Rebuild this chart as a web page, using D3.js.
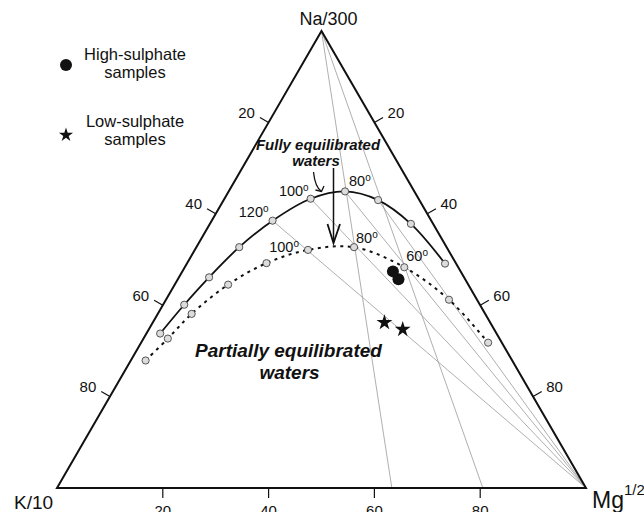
<!DOCTYPE html>
<html>
<head>
<meta charset="utf-8">
<script src="https://cdn.jsdelivr.net/npm/d3@7/dist/d3.min.js"></script>
<style>
  html, body { margin: 0; padding: 0; background: #fff; }
  svg { display: block; }
  text { font-family: "Liberation Sans", Arial, Helvetica, sans-serif; fill: #111; }
</style>
</head>
<body>
<svg id="chart" width="644" height="512"></svg>
<script>
// Na/300 – K/10 – Mg^1/2 ternary (Giggenbach-type) diagram.
// Compositions are percentages [T (°C), Na, K, Mg] or [Na, K, Mg].

const tickValues = [20, 40, 60, 80];

// Full equilibrium line, 20 °C steps
const fullEquilibrium = [
  [200, 33.8, 63.6, 2.6],
  [180, 40.1, 55.9, 4.0],
  [160, 46.1, 48.2, 5.7],
  [140, 52.7, 39.2, 8.1],
  [120, 58.5, 30.0, 11.5],
  [100, 63.3, 20.4, 16.3],
  [80, 64.9, 13.1, 22.0],
  [60, 63.0, 7.8, 29.2],
  [40, 57.8, 4.2, 38.0],
  [20, 49.1, 2.1, 48.8]
];

// Partial equilibrium line (dotted)
const partialEquilibrium = [
  [200, 27.9, 69.3, 2.8],
  [180, 32.7, 62.7, 4.6],
  [160, 38.1, 55.5, 6.4],
  [140, 44.5, 45.4, 10.1],
  [120, 49.2, 35.8, 15.0],
  [100, 52.1, 26.5, 21.4],
  [80, 52.7, 17.5, 29.8],
  [60, 48.3, 10.2, 41.5],
  [40, 41.2, 5.3, 53.5],
  [20, 31.8, 2.6, 65.6]
];

const fullLabelTemps = [120, 100, 80];
const partialLabelTemps = [100, 80, 60];

// K–Na isotherms: radiate from the Mg corner to the full-equilibrium point
const kNaIsothermTemps = [120, 100, 80, 60];
// K–Mg isotherms: radiate from the Na corner, Mg % where they meet the base
const kMgIsothermBase = [63.3, 80.5];

// Samples [Na, K, Mg]
const highSulphate = [
  [47.4, 12.8, 39.8],
  [45.7, 12.6, 41.7]
];
const lowSulphate = [
  [36.2, 20.0, 43.8],
  [34.7, 17.3, 48.0]
];

const legendItems = [
  { kind: "circle", lines: ["High-sulphate", "samples"] },
  { kind: "star", lines: ["Low-sulphate", "samples"] }
];

// ---------------------------------------------------------------------------
const svg = d3.select("#chart");

// Cartesian position of a composition: x from (Mg + Na/2), y from Na.
const sx = d3.scaleLinear().domain([0, 1]).range([57, 586]);
const sy = d3.scaleLinear().domain([0, 1]).range([488, 31]);
function proj(na, k, mg) {
  const s = na + k + mg;
  const a = na / s, m = mg / s;
  return [sx(m + a / 2), sy(a)];
}
const NA = proj(100, 0, 0), K = proj(0, 100, 0), MG = proj(0, 0, 100);
const byT = (arr, t) => arr.find(d => d[0] === t);
const pt = d => proj(d[1], d[2], d[3]);

// Grey isotherms
const grey = svg.append("g").attr("stroke", "#9a9a9a").attr("stroke-width", 0.8).attr("fill", "none");
kNaIsothermTemps.forEach(t => {
  const p = pt(byT(fullEquilibrium, t));
  grey.append("line").attr("x1", p[0]).attr("y1", p[1]).attr("x2", MG[0]).attr("y2", MG[1]);
});
kMgIsothermBase.forEach(m => {
  const b = proj(0, 100 - m, m);
  grey.append("line").attr("x1", NA[0]).attr("y1", NA[1]).attr("x2", b[0]).attr("y2", b[1]);
});

// Triangle frame
svg.append("path")
  .attr("d", d3.line()([NA, K, MG]) + "Z")
  .attr("fill", "none").attr("stroke", "#111").attr("stroke-width", 2)
  .attr("stroke-linejoin", "miter");

// Axis ticks and labels
const axes = svg.append("g");
const tickLen = 10;
tickValues.forEach(v => {
  // base (Mg increasing to the right)
  const b = proj(0, 100 - v, v);
  axes.append("line").attr("x1", b[0]).attr("y1", b[1]).attr("x2", b[0]).attr("y2", b[1] + tickLen)
    .attr("stroke", "#111").attr("stroke-width", 1.2);
  axes.append("text").attr("x", b[0]).attr("y", b[1] + 28).attr("text-anchor", "middle")
    .attr("font-size", 15).text(v);
  // left edge (from Na downwards)
  const l = proj(100 - v, v, 0);
  axes.append("line").attr("x1", l[0]).attr("y1", l[1])
    .attr("x2", l[0] - 0.866 * tickLen).attr("y2", l[1] - 0.5 * tickLen)
    .attr("stroke", "#111").attr("stroke-width", 1.2);
  axes.append("text").attr("x", l[0] - 22).attr("y", l[1] - 10 + 5.3).attr("text-anchor", "middle")
    .attr("font-size", 15).text(v);
  // right edge (from Na downwards)
  const r = proj(100 - v, 0, v);
  axes.append("line").attr("x1", r[0]).attr("y1", r[1])
    .attr("x2", r[0] + 0.866 * tickLen).attr("y2", r[1] - 0.5 * tickLen)
    .attr("stroke", "#111").attr("stroke-width", 1.2);
  axes.append("text").attr("x", r[0] + 21.5).attr("y", r[1] - 10 + 5.3).attr("text-anchor", "middle")
    .attr("font-size", 15).text(v);
});

// Corner labels
svg.append("text").attr("x", NA[0] - 22).attr("y", NA[1] - 6).attr("font-size", 18).text("Na/300");
svg.append("text").attr("x", K[0] - 43).attr("y", K[1] + 21).attr("font-size", 19).text("K/10");
const mgLabel = svg.append("text").attr("x", MG[0] + 6).attr("y", MG[1] + 20).attr("font-size", 23);
mgLabel.append("tspan").text("Mg");
mgLabel.append("tspan").attr("font-size", 15).attr("dy", -13).text("1/2");

// Equilibrium curves
const curve = d3.line().curve(d3.curveCatmullRom.alpha(0.5));
svg.append("path").attr("d", curve(fullEquilibrium.map(pt)))
  .attr("fill", "none").attr("stroke", "#111").attr("stroke-width", 1.8);
svg.append("path").attr("d", curve(partialEquilibrium.map(pt)))
  .attr("fill", "none").attr("stroke", "#111").attr("stroke-width", 2)
  .attr("stroke-dasharray", "3,4.5");

// Temperature nodes
const nodes = svg.append("g").attr("fill", "#dcdcdc").attr("stroke", "#444").attr("stroke-width", 0.9);
fullEquilibrium.concat(partialEquilibrium).forEach(d => {
  const p = pt(d);
  nodes.append("circle").attr("cx", p[0]).attr("cy", p[1]).attr("r", 3.6);
});

// Temperature labels
function tempLabel(d, dx, dy, anchor) {
  const p = pt(d);
  const t = svg.append("text").attr("x", p[0] + dx).attr("y", p[1] + dy)
    .attr("text-anchor", anchor).attr("font-size", 14.5);
  t.append("tspan").text(d[0]);
  t.append("tspan").attr("font-size", 10).attr("dy", -5).text("o");
}
const fullOffsets = { 120: [-4, -4, "end"], 100: [-2, -3, "end"], 80: [4, -5, "start"] };
const partialOffsets = { 100: [-9, 2, "end"], 80: [2, -4, "start"], 60: [2, -6, "start"] };
fullLabelTemps.forEach(t => { const o = fullOffsets[t]; tempLabel(byT(fullEquilibrium, t), o[0], o[1], o[2]); });
partialLabelTemps.forEach(t => { const o = partialOffsets[t]; tempLabel(byT(partialEquilibrium, t), o[0], o[1], o[2]); });

// Samples
const star = d3.symbol().type(d3.symbolStar);
highSulphate.forEach(d => {
  const p = proj(d[0], d[1], d[2]);
  svg.append("circle").attr("cx", p[0]).attr("cy", p[1]).attr("r", 6).attr("fill", "#111");
});
lowSulphate.forEach(d => {
  const p = proj(d[0], d[1], d[2]);
  svg.append("path").attr("d", star.size(78)()).attr("transform", `translate(${p[0]},${p[1]})`).attr("fill", "#111");
});

// Annotations
const note = svg.append("g");
note.append("text").attr("x", 318).attr("y", 150).attr("text-anchor", "middle")
  .attr("font-size", 15).attr("font-weight", "bold").attr("font-style", "italic").text("Fully equilibrated");
note.append("text").attr("x", 316).attr("y", 166).attr("text-anchor", "middle")
  .attr("font-size", 15).attr("font-weight", "bold").attr("font-style", "italic").text("waters");
note.append("path").attr("d", "M313.5,172 Q315,187 321.5,191.5")
  .attr("fill", "none").attr("stroke", "#111").attr("stroke-width", 1.3);
note.append("path").attr("d", "M315.5,190 L321.5,191.5 L324,186")
  .attr("fill", "none").attr("stroke", "#111").attr("stroke-width", 1.3);
note.append("line").attr("x1", 333.5).attr("y1", 168).attr("x2", 333.5).attr("y2", 242)
  .attr("stroke", "#111").attr("stroke-width", 1.5);
note.append("path").attr("d", "M327.5,224 L333.5,243 L340,224")
  .attr("fill", "none").attr("stroke", "#111").attr("stroke-width", 1.8);

svg.append("text").attr("x", 288.5).attr("y", 357).attr("text-anchor", "middle")
  .attr("font-size", 19).attr("font-weight", "bold").attr("font-style", "italic").text("Partially equilibrated");
svg.append("text").attr("x", 289.5).attr("y", 378.5).attr("text-anchor", "middle")
  .attr("font-size", 19).attr("font-weight", "bold").attr("font-style", "italic").text("waters");

// Legend
const legend = svg.append("g");
legendItems.forEach((item, i) => {
  const cy = 65 + i * 70;
  if (item.kind === "circle") {
    legend.append("circle").attr("cx", 66).attr("cy", cy).attr("r", 6).attr("fill", "#111");
  } else {
    legend.append("path").attr("d", star.size(62)()).attr("transform", `translate(66,${cy})`).attr("fill", "#111");
  }
  item.lines.forEach((s, j) => {
    legend.append("text").attr("x", 135).attr("y", cy - 5 + j * 18 - (i === 1 ? 3 : 0))
      .attr("text-anchor", "middle").attr("font-size", 16.5).text(s);
  });
});
</script>
</body>
</html>
